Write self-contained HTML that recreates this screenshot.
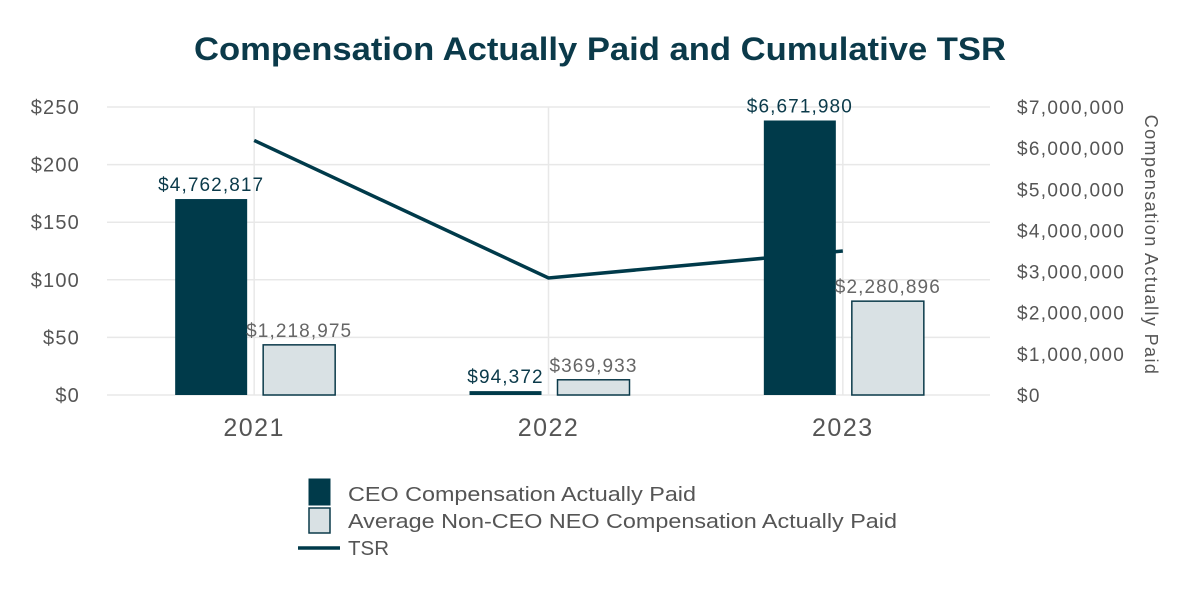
<!DOCTYPE html>
<html><head><meta charset="utf-8"><style>
body{margin:0;background:#fff;}
svg text{font-family:"Liberation Sans",sans-serif;}
</style></head><body>
<svg id="c" width="1200" height="600" xmlns="http://www.w3.org/2000/svg">
<text x="600" y="60" text-anchor="middle" font-size="32" font-weight="bold" fill="#0b3a4a" textLength="812" lengthAdjust="spacingAndGlyphs">Compensation Actually Paid and Cumulative TSR</text>
<g id="grid"></g><g id="marks"></g><g id="axes"></g>
<text transform="translate(1145,245) rotate(90)" text-anchor="middle" font-size="18" fill="#555" letter-spacing="1.4">Compensation Actually Paid</text>
<g>
<rect x="309" y="479" width="21" height="26" fill="#003a4a" stroke="#003a4a"/>
<text x="348" y="501" font-size="20" fill="#555" textLength="348" lengthAdjust="spacingAndGlyphs">CEO Compensation Actually Paid</text>
<rect x="309" y="508" width="21" height="25" fill="#d9e1e4" stroke="#0b3a4a" stroke-width="1.5"/>
<text x="348" y="528" font-size="20" fill="#555" textLength="549" lengthAdjust="spacingAndGlyphs">Average Non-CEO NEO Compensation Actually Paid</text>
<line x1="298" y1="548" x2="340" y2="548" stroke="#003a4a" stroke-width="3.5"/>
<text x="348" y="555" font-size="20" fill="#555" textLength="41" lengthAdjust="spacingAndGlyphs">TSR</text>
</g>
</svg>
<script>
const categories=["2021","2022","2023"];
const ceoValues=[4762817,94372,6671980];
const neoValues=[1218975,369933,2280896];
const tsrValues=[221,101.6,125];
const leftTicks=[0,50,100,150,200,250];
const rightTicks=[0,1000000,2000000,3000000,4000000,5000000,6000000,7000000];
const NS="http://www.w3.org/2000/svg";
const x0=107,x1=990,y0=395,y1=107;
const band=(x1-x0)/categories.length;
const xc=i=>x0+band*(i+0.5);
const yl=v=>y0-(v/250)*(y0-y1);
const yr=v=>y0-(v/7000000)*(y0-y1);
const money=v=>"$"+v.toLocaleString("en-US");
function el(tag,attrs,parent,txt){const e=document.createElementNS(NS,tag);for(const k in attrs)e.setAttribute(k,attrs[k]);if(txt!==undefined)e.textContent=txt;document.getElementById(parent).appendChild(e);return e;}
leftTicks.forEach(t=>{
 const g=el("line",{x1:x0,x2:x1,y1:yl(t),y2:yl(t),stroke:"#e8e8e8","stroke-width":1.5},"grid");
 
 
 const l=el("text",{x:80,y:yl(t)+7,"text-anchor":"end","font-size":20,"letter-spacing":1.2,fill:"#555"},"axes","$"+t);
 
 
});
rightTicks.forEach(t=>{
 const l=el("text",{x:1017,y:yr(t)+7,"font-size":19,"letter-spacing":1.3,fill:"#555"},"axes",t===0?"$0":money(t));
 
 
});
categories.forEach((c,i)=>{
 const g=el("line",{x1:xc(i),x2:xc(i),y1:y1,y2:y0,stroke:"#e8e8e8","stroke-width":1.5},"grid");
 
 
 const l=el("text",{x:xc(i),y:436,"text-anchor":"middle","font-size":25,"letter-spacing":1.5,fill:"#555"},"axes",c);
 
 
 const bw=72;
 const cx=xc(i)-43-bw/2, nx=xc(i)+45-bw/2;
 const b1=el("rect",{x:cx,y:yr(ceoValues[i]),width:bw,height:y0-yr(ceoValues[i]),fill:"#003a4a"},"marks");
 
 
 const t1=el("text",{x:cx+bw/2,y:yr(ceoValues[i])-8,"text-anchor":"middle","font-size":19,"letter-spacing":1.1,fill:"#0b3a4a"},"marks",money(ceoValues[i]));
 
 
 const b2=el("rect",{x:nx,y:yr(neoValues[i]),width:bw,height:y0-yr(neoValues[i]),fill:"#d9e1e4",stroke:"#0b3a4a","stroke-width":1.5},"marks");
 
 
 const t2=el("text",{x:nx+bw/2,y:yr(neoValues[i])-8,"text-anchor":"middle","font-size":19,"letter-spacing":1.1,fill:"#666"},"marks",money(neoValues[i]));
 
 
});
const pts=tsrValues.map((v,i)=>xc(i)+","+yl(v)).join(" ");
const line=el("polyline",{points:pts,fill:"none",stroke:"#003a4a","stroke-width":3.5},"marks");


</script>
</body></html>
